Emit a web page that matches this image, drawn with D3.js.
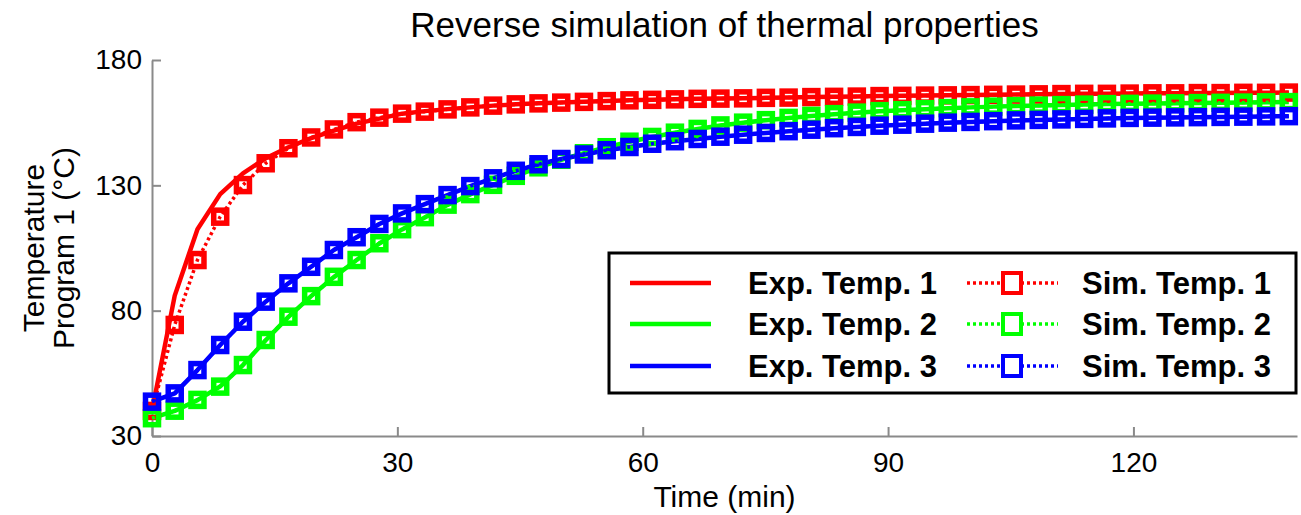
<!DOCTYPE html>
<html>
<head>
<meta charset="utf-8">
<script src="https://cdn.jsdelivr.net/npm/d3@7"></script>
<style>
body { margin: 0; background: #fff; }
text { font-family: "Liberation Sans", Arial, sans-serif; }
</style>
</head>
<body>
<svg width="1301" height="515"></svg>
<script>
// Sample times (min), shared by every series.
var timeMin = [0, 2.78, 5.56, 8.34, 11.12, 13.9, 16.68, 19.46, 22.24, 25.02,
    27.8, 30.58, 33.36, 36.14, 38.92, 41.7, 44.48, 47.26, 50.04, 52.82,
    55.6, 58.38, 61.16, 63.94, 66.72, 69.5, 72.28, 75.06, 77.84, 80.62,
    83.4, 86.18, 88.96, 91.74, 94.52, 97.3, 100.08, 102.86, 105.64, 108.42,
    111.2, 113.98, 116.76, 119.54, 122.32, 125.1, 127.88, 130.66, 133.44, 136.22, 139];

// Experimental temperatures (°C).
var expTemp1 = [40, 86, 112.5, 126.5, 134.8, 140.8, 145.2, 148.8, 151.8, 154.6,
    156.6, 158.6, 159.6, 160.4, 161.1, 161.8, 162.3, 162.7, 163.0, 163.3,
    163.6, 163.9, 164.1, 164.3, 164.5, 164.6, 164.7, 164.9, 165.0, 165.2,
    165.3, 165.4, 165.6, 165.7, 165.8, 165.9, 166.0, 166.1, 166.2, 166.3,
    166.4, 166.5, 166.5, 166.6, 166.7, 166.7, 166.8, 166.8, 166.9, 166.9, 167.0];
var expTemp2 = [37.1, 40.0, 44.3, 49.8, 58.3, 68.2, 77.5, 85.8, 93.4, 100.2,
    106.8, 112.4, 117.2, 122.2, 126.4, 130.2, 133.8, 137.2, 140.2, 142.8,
    145.2, 147.4, 149.3, 151.0, 152.5, 153.9, 155.0, 156.0, 156.9, 157.7,
    158.4, 159.0, 159.6, 160.0, 160.4, 160.8, 161.1, 161.4, 161.6, 161.8,
    162.0, 162.2, 162.4, 162.5, 162.6, 162.7, 162.8, 162.9, 163.0, 163.1, 163.2];
var expTemp3 = [43.7, 47.0, 56.3, 66.3, 75.6, 83.6, 90.9, 97.5, 104.2, 109.3,
    114.6, 118.8, 122.5, 126.1, 129.7, 132.8, 135.8, 138.4, 140.5, 142.3,
    144.0, 145.3, 146.6, 147.6, 148.5, 149.4, 150.2, 150.9, 151.6, 152.2,
    152.8, 153.3, 153.8, 154.2, 154.6, 155.0, 155.3, 155.6, 155.9, 156.1,
    156.3, 156.5, 156.7, 156.9, 157.0, 157.1, 157.2, 157.3, 157.4, 157.5, 157.6];

// Simulated temperatures (°C).
var simTemp1 = [40, 74.3, 100.2, 117.5, 130.1, 138.8, 144.8, 149.1, 152.3, 155.2,
    157.0, 158.6, 159.4, 160.3, 161.1, 161.8, 162.3, 162.7, 163.0, 163.3,
    163.6, 163.9, 164.1, 164.3, 164.5, 164.6, 164.7, 164.9, 165.0, 165.2,
    165.3, 165.4, 165.6, 165.7, 165.8, 165.9, 166.0, 166.1, 166.2, 166.3,
    166.4, 166.5, 166.5, 166.6, 166.7, 166.7, 166.8, 166.8, 166.9, 166.9, 167.0];
var simTemp2 = [37.1, 40.1, 44.4, 49.7, 58.3, 68.3, 77.6, 85.8, 93.5, 100.2,
    106.9, 112.5, 117.3, 122.3, 126.5, 130.2, 133.8, 137.2, 140.2, 142.8,
    145.2, 147.4, 149.3, 151.0, 152.5, 153.9, 155.0, 156.0, 156.9, 157.7,
    158.4, 159.0, 159.6, 160.0, 160.4, 160.8, 161.1, 161.4, 161.6, 161.8,
    162.0, 162.2, 162.4, 162.5, 162.6, 162.7, 162.8, 162.9, 163.0, 163.1, 163.2];
var simTemp3 = [43.7, 47.0, 56.3, 66.3, 75.6, 83.6, 90.9, 97.5, 104.2, 109.3,
    114.6, 118.8, 122.5, 126.1, 129.7, 132.8, 135.8, 138.4, 140.5, 142.3,
    144.0, 145.3, 146.6, 147.6, 148.5, 149.4, 150.2, 150.9, 151.6, 152.2,
    152.8, 153.3, 153.8, 154.2, 154.6, 155.0, 155.3, 155.6, 155.9, 156.1,
    156.3, 156.5, 156.7, 156.9, 157.0, 157.1, 157.2, 157.3, 157.4, 157.5, 157.6];

var seriesColors = ["#ff0000", "#00ff00", "#0000ff"];
var expLabels = ["Exp. Temp. 1", "Exp. Temp. 2", "Exp. Temp. 3"];
var simLabels = ["Sim. Temp. 1", "Sim. Temp. 2", "Sim. Temp. 3"];
var xTicks = [0, 30, 60, 90, 120];
var yTicks = [30, 80, 130, 180];

var svg = d3.select("svg");

var x = d3.scaleLinear().domain([0, 140]).range([152, 1297]);
var y = d3.scaleLinear().domain([30, 180]).range([436, 60]);

var axisColor = "#8a8a8a";

// axes, MATLAB style ticks pointing inwards
var gx = svg.append("g")
    .attr("transform", "translate(0,436)")
    .call(d3.axisBottom(x).tickValues(xTicks).tickSize(-9).tickPadding(16).tickSizeOuter(0));
var gy = svg.append("g")
    .attr("transform", "translate(152,0)")
    .call(d3.axisLeft(y).tickValues(yTicks).tickSize(-9).tickPadding(10).tickSizeOuter(0));

[gx, gy].forEach(function (g) {
    g.select(".domain").attr("stroke", axisColor).attr("stroke-width", 2);
    g.selectAll(".tick line").attr("stroke", axisColor).attr("stroke-width", 2);
    g.selectAll(".tick text")
        .attr("fill", "#000")
        .style("font-size", "28px")
        .style("font-family", "'Liberation Sans', Arial, sans-serif");
});
gx.selectAll(".tick text").attr("dy", "0.71em");

var line = d3.line()
    .x(function (d) { return x(d[0]); })
    .y(function (d) { return y(d[1]); });

var expSeries = [expTemp1, expTemp2, expTemp3];
var simSeries = [simTemp1, simTemp2, simTemp3];

function pairs(vals) {
    return timeMin.map(function (t, i) { return [t, vals[i]]; });
}

// experimental curves (solid)
expSeries.forEach(function (vals, i) {
    svg.append("path")
        .attr("d", line(pairs(vals)))
        .attr("fill", "none")
        .attr("stroke", seriesColors[i])
        .attr("stroke-width", 4.5)
        .attr("stroke-linejoin", "round");
});

var mk = 13; // marker side

// simulated curves (dotted + square markers)
simSeries.forEach(function (vals, i) {
    var pts = pairs(vals);
    svg.append("path")
        .attr("d", line(pts))
        .attr("fill", "none")
        .attr("stroke", seriesColors[i])
        .attr("stroke-width", 3.5)
        .attr("stroke-dasharray", "3,3");
    svg.append("g").selectAll("rect")
        .data(pts)
        .enter().append("rect")
        .attr("x", function (d) { return x(d[0]) - mk / 2; })
        .attr("y", function (d) { return y(d[1]) - mk / 2; })
        .attr("width", mk)
        .attr("height", mk)
        .attr("fill", "none")
        .attr("stroke", seriesColors[i])
        .attr("stroke-width", 5.5);
});

// title and axis labels
svg.append("text")
    .attr("x", 724.5).attr("y", 37)
    .attr("text-anchor", "middle")
    .style("font-size", "35px")
    .text("Reverse simulation of thermal properties");

svg.append("text")
    .attr("x", 724.5).attr("y", 507)
    .attr("text-anchor", "middle")
    .style("font-size", "30px")
    .text("Time (min)");

var ylab = svg.append("text")
    .attr("transform", "translate(0,248) rotate(-90)")
    .attr("text-anchor", "middle")
    .style("font-size", "30px");
ylab.append("tspan").attr("x", 0).attr("y", 44).text("Temperature");
ylab.append("tspan").attr("x", 0).attr("y", 74).text("Program 1 (°C)");

// legend
var legend = svg.append("g").attr("class", "legend");
legend.append("rect")
    .attr("x", 609).attr("y", 253)
    .attr("width", 687).attr("height", 140)
    .attr("fill", "#fff")
    .attr("stroke", "#000")
    .attr("stroke-width", 3);

var rowY = [283, 324, 366];
seriesColors.forEach(function (c, i) {
    legend.append("line")
        .attr("x1", 630).attr("x2", 711)
        .attr("y1", rowY[i]).attr("y2", rowY[i])
        .attr("stroke", c).attr("stroke-width", 4.5);
    legend.append("text")
        .attr("x", 748).attr("y", rowY[i] + 11)
        .style("font-size", "31px").style("font-weight", "bold")
        .text(expLabels[i]);
    legend.append("line")
        .attr("x1", 967).attr("x2", 1058)
        .attr("y1", rowY[i]).attr("y2", rowY[i])
        .attr("stroke", c).attr("stroke-width", 3.5)
        .attr("stroke-dasharray", "3,3");
    legend.append("rect")
        .attr("x", 1003).attr("y", rowY[i] - 10)
        .attr("width", 18).attr("height", 20)
        .attr("fill", "#fff")
        .attr("stroke", c).attr("stroke-width", 4);
    legend.append("text")
        .attr("x", 1082).attr("y", rowY[i] + 11)
        .style("font-size", "31px").style("font-weight", "bold")
        .text(simLabels[i]);
});
</script>
</body>
</html>
